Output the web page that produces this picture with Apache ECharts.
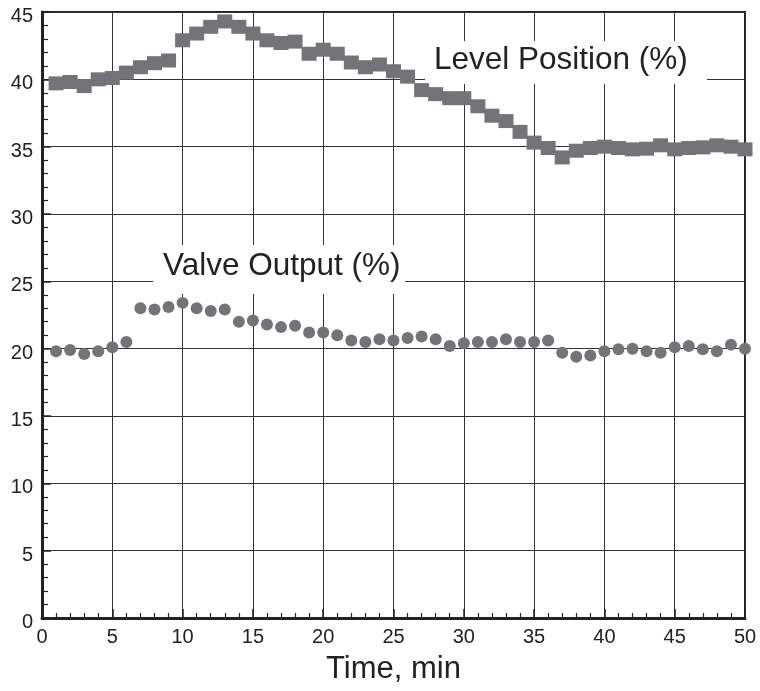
<!DOCTYPE html>
<html>
<head>
<meta charset="utf-8">
<script src="https://cdn.jsdelivr.net/npm/echarts@6/dist/echarts.min.js"></script>
<style>
html,body{margin:0;padding:0;background:#fff;}
#chart{width:760px;height:691px;}
</style>
</head>
<body>
<div id="chart"></div>
<script>
const time = [1,2,3,4,5,6,7,8,9,10,11,12,13,14,15,16,17,18,19,20,21,22,23,24,25,26,27,28,29,30,31,32,33,34,35,36,37,38,39,40,41,42,43,44,45,46,47,48,49,50];
const levelPosition = [39.7,39.8,39.5,40.0,40.1,40.5,40.9,41.2,41.4,42.9,43.4,43.9,44.3,43.9,43.4,42.9,42.7,42.8,41.9,42.2,41.9,41.25,40.9,41.1,40.6,40.2,39.2,38.9,38.6,38.6,38.0,37.3,36.9,36.1,35.3,34.9,34.2,34.7,34.9,35.0,34.9,34.8,34.85,35.1,34.8,34.9,34.95,35.1,35.0,34.8];
const valveOutput = [19.8,19.9,19.6,19.8,20.1,20.5,23.0,22.9,23.1,23.4,23.0,22.8,22.9,22.0,22.1,21.8,21.6,21.7,21.2,21.2,21.0,20.6,20.5,20.7,20.6,20.8,20.9,20.7,20.2,20.4,20.5,20.5,20.7,20.5,20.5,20.6,19.7,19.4,19.5,19.8,19.95,20.0,19.8,19.7,20.1,20.2,19.95,19.8,20.3,20.0];
const xTicks = {min: 0, max: 50, interval: 5};
const yTicks = {min: 0, max: 45, interval: 5};
const xName = 'Time, min';
const levelLabel = 'Level Position (%)';
const valveLabel = 'Valve Output (%)';

const font = 'Liberation Sans, Arial, Helvetica, sans-serif';
const markColor = '#747378';
const chart = echarts.init(document.getElementById('chart'), null, {renderer: 'canvas'});

const pairs = (ys) => time.map((t, i) => [t, ys[i]]);

chart.setOption({
  animation: false,
  backgroundColor: '#fff',
  grid: {left: 42, right: 15, top: 12, bottom: 73, show: true, borderColor: '#222', borderWidth: 2, backgroundColor: 'transparent'},
  xAxis: {
    type: 'value', min: xTicks.min, max: xTicks.max, interval: xTicks.interval,
    name: xName, nameLocation: 'middle', nameGap: 36,
    nameTextStyle: {fontFamily: font, fontSize: 31, color: '#222'},
    axisLine: {show: true, lineStyle: {color: '#222', width: 3}},
    axisTick: {show: true, inside: true, length: 9, lineStyle: {color: '#222', width: 1.5}},
    minorTick: {show: true, splitNumber: 5, length: 5, lineStyle: {color: '#222', width: 1.2}},
    axisLabel: {fontFamily: font, fontSize: 20, color: '#222', margin: 9},
    splitLine: {show: true, lineStyle: {color: '#333', width: 1}}
  },
  yAxis: {
    type: 'value', min: yTicks.min, max: yTicks.max, interval: yTicks.interval,
    axisLine: {show: true, lineStyle: {color: '#222', width: 3}},
    axisTick: {show: true, inside: true, length: 9, lineStyle: {color: '#222', width: 1.5}},
    minorTick: {show: true, splitNumber: 5, length: 6, lineStyle: {color: '#222', width: 1.2}},
    axisLabel: {fontFamily: font, fontSize: 20, color: '#222', margin: 9, verticalAlign: 'top', lineHeight: 9},
    splitLine: {show: true, lineStyle: {color: '#333', width: 1}}
  },
  graphic: {elements: [
    {type: 'rect', z: 1, shape: {x: 425, y: 41, width: 282, height: 43}, style: {fill: '#fff'}},
    {type: 'text', z: 3, x: 434, y: 60, style: {text: levelLabel, font: '31.5px ' + font, fill: '#222', verticalAlign: 'middle', align: 'left'}},
    {type: 'rect', z: 1, shape: {x: 153, y: 245, width: 252, height: 49}, style: {fill: '#fff'}},
    {type: 'text', z: 3, x: 163, y: 266, style: {text: valveLabel, font: '31.5px ' + font, fill: '#222', verticalAlign: 'middle', align: 'left'}}
  ]},
  series: [
    {name: levelLabel, type: 'scatter', data: pairs(levelPosition), symbol: 'rect', symbolSize: [15, 14], itemStyle: {color: markColor, opacity: 1}, z: 2},
    {name: valveLabel, type: 'scatter', data: pairs(valveOutput), symbol: 'circle', symbolSize: 12, itemStyle: {color: markColor, opacity: 1}, z: 2}
  ]
});
</script>
</body>
</html>
